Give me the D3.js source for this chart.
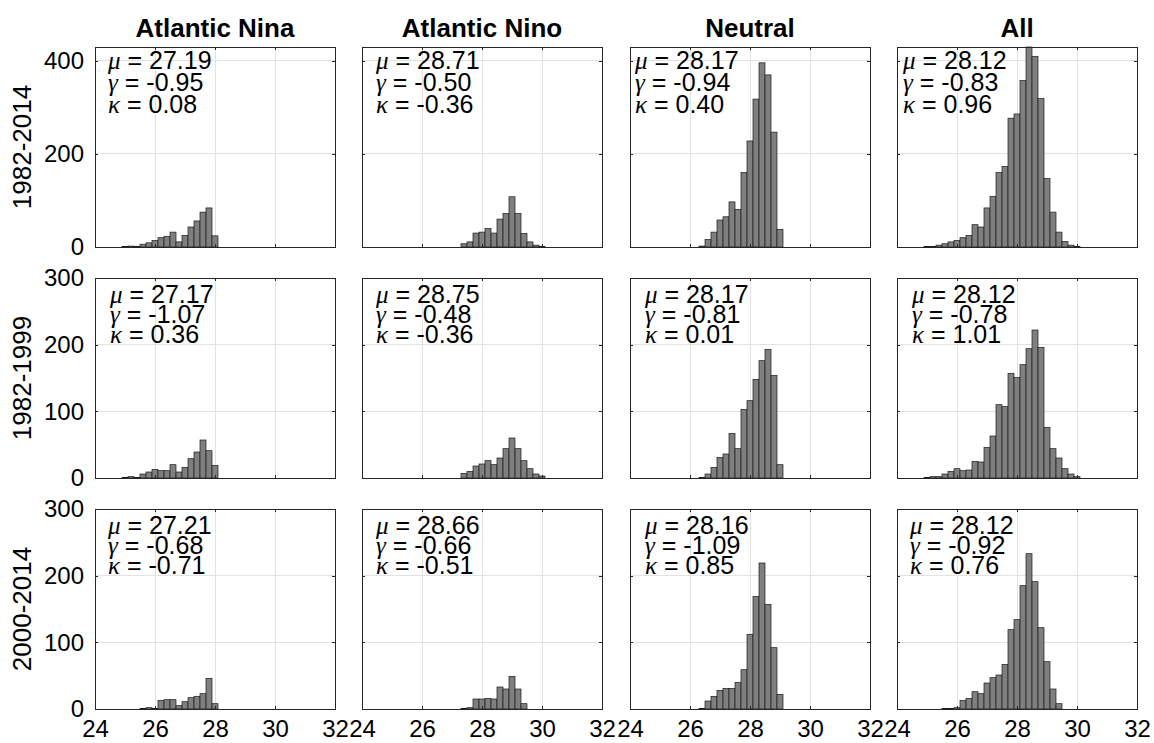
<!DOCTYPE html>
<html>
<head>
<meta charset="utf-8">
<script src="https://cdn.jsdelivr.net/npm/d3@7"></script>
<style>
body{margin:0;background:#fff;}
text{font-family:"Liberation Sans",Arial,Helvetica,sans-serif;fill:#000;}
.grid line{stroke:#e2e2e2;stroke-width:1;shape-rendering:crispEdges;}
.bar{fill:#7f7f7f;stroke:#1c1c1c;stroke-width:0.7;}
.frame{fill:none;stroke:#262626;stroke-width:1;shape-rendering:crispEdges;}
.axis line{stroke:#262626;shape-rendering:crispEdges;}
.axis path{display:none;}
</style>
</head>
<body>
<div id="chart"></div>
<script>
// categories / periods
var columns=['Atlantic Nina','Atlantic Nino','Neutral','All'];
var periods=['1982-2014','1982-1999','2000-2014'];

// axis ticks and limits
var xTicks=[24,26,28,30,32];
var yTicks=[[0,200,400],[0,100,200,300],[0,100,200,300]];
var yMax=[430,300,300];
var binWidth=0.2;

// left edge of first bin, per panel [row][col]
var binStart=[[24.9,27.3,26.3,24.9],[24.9,27.3,26.3,24.9],[25.5,27.3,26.3,25.5]];

// counts per bin, 1982-2014
var nina8214=[1,2,1,6,9,14,20,23,32,11,25,43,56,75,84,24];
var nino8214=[7,11,30,32,40,30,60,72,108,72,29,11,4,1];
var neut8214=[2,16,32,58,65,97,81,160,228,318,396,370,247,38];
var all8214=[1,1,4,7,11,14,20,25,48,43,84,109,160,173,277,286,358,430,410,319,147,75,32,12,4,1];
// 1982-1999
var nina8299=[1,2,1,6,9,13,11,11,20,9,16,29,39,57,41,19];
var nino8299=[7,10,18,21,26,20,30,44,60,44,26,14,6,3];
var neut8299=[1,6,16,31,36,67,44,103,116,148,176,193,154,20];
var all8299=[1,2,2,6,10,14,11,12,25,24,46,63,110,107,157,151,170,194,222,196,76,44,30,14,6,2];
// 2000-2014
var nina0014=[1,2,1,13,14,14,5,11,17,19,23,46,8];
var nino0014=[1,2,15,15,16,15,33,30,49,30,8];
var neut0014=[1,12,19,28,31,31,40,59,112,169,219,157,92,22];
var all0014=[1,1,2,13,16,26,23,39,47,51,67,119,134,185,233,191,122,71,30,8];

// mean, skewness, kurtosis
var mu=[[27.19,28.71,28.17,28.12],[27.17,28.75,28.17,28.12],[27.21,28.66,28.16,28.12]];
var gam=[[-0.95,-0.50,-0.94,-0.83],[-1.07,-0.48,-0.81,-0.78],[-0.68,-0.66,-1.09,-0.92]];
var kap=[[0.08,-0.36,0.40,0.96],[0.36,-0.36,0.01,1.01],[-0.71,-0.51,0.85,0.76]];

var counts=[[nina8214,nino8214,neut8214,all8214],
            [nina8299,nino8299,neut8299,all8299],
            [nina0014,nino0014,neut0014,all0014]];

// layout
var W=1154,H=743;
var colLeft=[95,362,630,897],panelW=240;
var rowTop=[47,278,509],panelH=200;
var statInset=[[13,14,5,6],[15,14,15,15],[13,14,15,13]];
var statTop=[[22,44,66],[25,45,65],[25,45,65]];

var svg=d3.select('#chart').append('svg')
    .attr('width',W)
    .attr('height',H);
svg.append('rect').attr('width',W).attr('height',H).attr('fill','#fff');

function drawPanel(r,c){
    var left=colLeft[c],top=rowTop[r];
    var x=d3.scaleLinear().domain([24,32]).range([left,left+panelW]);
    var y=d3.scaleLinear().domain([0,yMax[r]]).range([top+panelH,top]);
    var g=svg.append('g');

    // grid
    var grid=g.append('g').attr('class','grid');
    grid.selectAll('.gx').data(xTicks.slice(1,-1)).enter().append('line')
        .attr('x1',function(d){return x(d);}).attr('x2',function(d){return x(d);})
        .attr('y1',top).attr('y2',top+panelH);
    grid.selectAll('.gy').data(yTicks[r].filter(function(d){return d>0&&d<yMax[r];})).enter().append('line')
        .attr('x1',left).attr('x2',left+panelW)
        .attr('y1',function(d){return y(d);}).attr('y2',function(d){return y(d);});

    // bars
    var bins=counts[r][c].map(function(v,i){
        var x0=+(binStart[r][c]+i*binWidth).toFixed(2);
        return {x0:x0,x1:+(x0+binWidth).toFixed(2),v:v};
    });
    g.selectAll('.bar').data(bins).enter().append('rect')
        .attr('class','bar')
        .attr('x',function(d){return x(d.x0);})
        .attr('width',function(d){return x(d.x1)-x(d.x0);})
        .attr('y',function(d){return y(d.v);})
        .attr('height',function(d){return y(0)-y(d.v);});

    // axes with inward ticks
    var yl=g.append('g').attr('class','axis').attr('transform','translate('+left+',0)')
        .call(d3.axisLeft(y).tickValues(yTicks[r]).tickSize(-3).tickPadding(11)
            .tickFormat(c===0?d3.format('d'):function(){return '';}));
    yl.selectAll('text').attr('font-size',24).attr('font-family','"Liberation Sans",Arial,sans-serif');
    g.append('g').attr('class','axis').attr('transform','translate('+(left+panelW)+',0)')
        .call(d3.axisRight(y).tickValues(yTicks[r]).tickSize(-3).tickFormat(''));
    var xb=g.append('g').attr('class','axis').attr('transform','translate(0,'+(top+panelH)+')')
        .call(d3.axisBottom(x).tickValues(xTicks).tickSize(-3).tickPadding(11)
            .tickFormat(r===2?d3.format('d'):function(){return '';}));
    xb.selectAll('text').attr('font-size',24).attr('font-family','"Liberation Sans",Arial,sans-serif');
    g.append('g').attr('class','axis').attr('transform','translate(0,'+top+')')
        .call(d3.axisTop(x).tickValues(xTicks).tickSize(-3).tickFormat(''));

    g.append('rect').attr('class','frame')
        .attr('x',left).attr('y',top).attr('width',panelW).attr('height',panelH);

    // stats
    var stats=[['\u03bc',mu[r][c]],['\u03b3',gam[r][c]],['\u03ba',kap[r][c]]];
    stats.forEach(function(s,i){
        var t=g.append('text')
            .attr('x',left+statInset[r][c])
            .attr('y',top+statTop[r][i])
            .attr('font-size',25);
        t.append('tspan').text(s[0])
            .attr('font-family','"Liberation Serif","Times New Roman",serif')
            .attr('font-style','italic');
        t.append('tspan').text(' = '+s[1].toFixed(2));
    });
}

for(var r=0;r<3;r++){
    for(var c=0;c<4;c++){
        drawPanel(r,c);
    }
}

// column titles
svg.selectAll('.title').data(columns).enter().append('text')
    .attr('class','title')
    .attr('x',function(d,i){return colLeft[i]+panelW/2;})
    .attr('y',37)
    .attr('text-anchor','middle')
    .attr('font-size',26)
    .attr('font-weight','bold')
    .text(function(d){return d;});

// row labels
svg.selectAll('.rowlab').data(periods).enter().append('text')
    .attr('class','rowlab')
    .attr('transform',function(d,i){return 'translate(31,'+(rowTop[i]+panelH/2)+') rotate(-90)';})
    .attr('text-anchor','middle')
    .attr('font-size',26)
    .text(function(d){return d;});
</script>
</body>
</html>
